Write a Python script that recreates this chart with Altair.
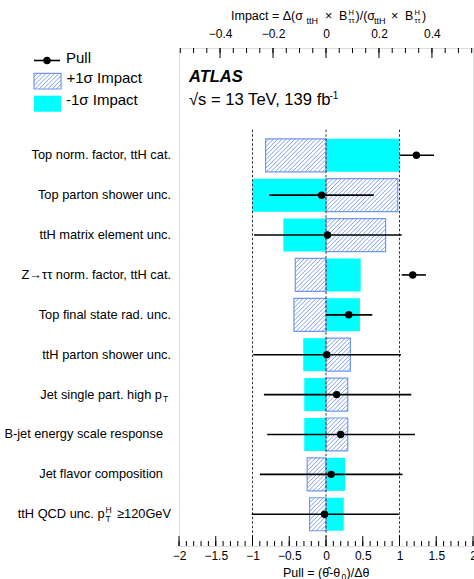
import altair as alt
import pandas as pd
import numpy as np

# ---------------- data ----------------
labels = [
    "Top norm. factor, ttH cat.",
    "Top parton shower unc.",
    "ttH matrix element unc.",
    "Z\u2192\u03c4\u03c4 norm. factor, ttH cat.",
    "Top final state rad. unc.",
    "ttH parton shower unc.",
    "Jet single part. high p",
    "B-jet energy scale response",
    "Jet flavor composition",
    "ttH QCD unc. p",
]
pull = [1.23, -0.06, 0.02, 1.18, 0.31, 0.01, 0.145, 0.20, 0.07, -0.02]
pull_lo = [1.00, -0.77, -0.98, 1.03, 0.00, -0.99, -0.845, -0.80, -0.90, -1.01]
pull_hi = [1.47, 0.65, 1.03, 1.36, 0.63, 1.02, 1.16, 1.21, 1.04, 0.99]
impact_plus = [-0.228, 0.271, 0.225, -0.116, -0.121, 0.092, 0.082, 0.082, -0.071, -0.062]
impact_minus = [0.277, -0.278, -0.161, 0.131, 0.128, -0.086, -0.082, -0.082, 0.072, 0.067]

pull_ticks = [-2, -1.5, -1, -0.5, 0, 0.5, 1, 1.5, 2]
pull_minor_ticks = [round(v, 1) for v in np.arange(-2, 2.001, 0.1)]
impact_ticks = [-0.4, -0.2, 0, 0.2, 0.4]
impact_minor_ticks = [round(v, 2) for v in np.arange(-0.55, 0.5501, 0.05)]

# ---------------- layout ----------------
W, H = 294, 498
PULL_DOM = [-2, 2]
IMP_DOM = [-0.555, 0.555]
ROW_DOM = [-2.69, 9.796]
BAR_HALF = 0.4135
FONT = "Liberation Sans"
CYAN = "#00ffff"
HATCH = "#7097ef"
HSTEP = 4.3
MAJ, MIN = 10, 5
label_end = [171, 171, 171, 171, 171, 171, 162, 163, 163, 104.5]  # absolute px

kx = W / (IMP_DOM[1] - IMP_DOM[0])
ky = H / (ROW_DOM[1] - ROW_DOM[0])


def hatch_segments(X0, X1, Y0, Y1, step):
    segs = []
    c = np.ceil((X0 + Y0) / step) * step
    while c < X1 + Y1:
        a = max(X0, c - Y1)
        b = min(X1, c - Y0)
        if b > a:
            segs.append((a, c - a, b, c - b))
        c += step
    return segs


rows = pd.DataFrame({
    "label": labels,
    "pull": pull, "lo": pull_lo, "hi": pull_hi,
    "plus": impact_plus, "minus": impact_minus,
})
rows["row"] = np.arange(len(rows))
rows["zero"] = 0.0
rows["ylo"] = rows["row"] - BAR_HALF
rows["yhi"] = rows["row"] + BAR_HALF
rows["lx"] = [e - 179 for e in label_end]

hrows = []
for _, r in rows.iterrows():
    x0, x1 = min(0, r.plus), max(0, r.plus)
    for a, ya, b, yb in hatch_segments(x0 * kx, x1 * kx, r.ylo * ky, r.yhi * ky, HSTEP):
        hrows.append({"hx": a / kx, "hy": ya / ky, "hx2": b / kx, "hy2": yb / ky})
hatch_df = pd.DataFrame(hrows)

leg_h = pd.DataFrame([
    {"px": a, "py": ya, "px2": b, "py2": yb}
    for a, ya, b, yb in hatch_segments(-145, -118, 25.3, 41, HSTEP)
])


def imp_scale():
    return alt.Scale(domain=IMP_DOM, nice=False, zero=False)


def pull_scale():
    return alt.Scale(domain=PULL_DOM, nice=False, zero=False)


def xs_imp(field, axis=None):
    return alt.X(field, type="quantitative", scale=imp_scale(), axis=axis)


def xs_pull(field, axis=None):
    return alt.X(field, type="quantitative", scale=pull_scale(), axis=axis)


def ys(field):
    return alt.Y(field, type="quantitative",
                 scale=alt.Scale(domain=ROW_DOM, reverse=True, nice=False, zero=False), axis=None)


def label_axis(orient, values, pad):
    return alt.Axis(orient=orient, values=values, format=".1~f", ticks=False, domain=False,
                    grid=False, labelPadding=pad, labelFontSize=12, labelFont=FONT,
                    labelColor="black", title=None, labelFlush=False, labelOverlap=False)


def tick_layer(values, scale_fn, top, length):
    df = pd.DataFrame({"v": values})
    y0, y1 = (0, length) if top else (H, H - length)
    return alt.Chart(df).mark_rule(color="black", strokeWidth=1).encode(
        x=alt.X("v:Q", scale=scale_fn(), axis=None), y=alt.value(y0), y2=alt.value(y1))


# ---------------- impact bars ----------------
base = alt.Chart(rows)
cyan_bars = base.mark_rect(color=CYAN).encode(
    x=xs_imp("minus"), x2="zero", y=ys("ylo"), y2="yhi")
hatch_lines = alt.Chart(hatch_df).mark_rule(color=HATCH, strokeWidth=0.9).encode(
    x=xs_imp("hx"), x2="hx2", y=ys("hy"), y2="hy2")
hatch_border = base.mark_rect(filled=False, color=HATCH, strokeWidth=1.2).encode(
    x=xs_imp("plus"), x2="zero", y=ys("ylo"), y2="yhi")
impact_group = alt.layer(cyan_bars, hatch_lines, hatch_border)

imp_axis = alt.Chart(pd.DataFrame({"v": impact_ticks})).mark_point(opacity=0).encode(
    x=xs_imp("v", label_axis("top", impact_ticks, 7.5)), y=alt.value(0))

# ---------------- pulls ----------------
guide_df = pd.DataFrame({"v": [-1, 0, 1], "y0": [-0.64] * 3, "y1": [ROW_DOM[1]] * 3})
guides = alt.Chart(guide_df).mark_rule(color="#333333", strokeWidth=1, strokeDash=[2.5, 2]).encode(
    x=xs_pull("v"), y=ys("y0"), y2="y1")
err = base.mark_rule(color="black", strokeWidth=1.6).encode(
    x=xs_pull("lo"), x2="hi", y=ys("row"))
pts = base.mark_circle(size=55, color="black", opacity=1).encode(
    x=xs_pull("pull"), y=ys("row"))
pull_group = alt.layer(guides, err, pts)

pull_axis = alt.Chart(pd.DataFrame({"v": pull_ticks})).mark_point(opacity=0).encode(
    x=xs_pull("v", label_axis("bottom", pull_ticks, 4)), y=alt.value(0))

ticks = [
    tick_layer(impact_minor_ticks, imp_scale, True, MIN),
    tick_layer(impact_ticks, imp_scale, True, MAJ),
    tick_layer(pull_minor_ticks, pull_scale, False, MIN),
    tick_layer(pull_ticks, pull_scale, False, MAJ),
]

# ---------------- row labels ----------------
row_labels = base.mark_text(align="right", baseline="middle", fontSize=12.8, font=FONT,
                            color="black").encode(
    x=alt.X("lx:Q", scale=None, axis=None), y=ys("row"), text="label:N")


def piece(row, s, x_abs, dy, size=8.5, align="left"):
    return base.transform_filter(f"datum.row == {row}").mark_text(
        text=s, align=align, baseline="middle", fontSize=size, font=FONT, color="black", dy=dy
    ).encode(x=alt.value(x_abs - 179), y=ys("row"))


label_pieces = [
    piece(6, "T", 163, 4.5),
    piece(9, "H", 105.5, -4.5),
    piece(9, "T", 105.5, 4.5),
    piece(9, "\u2265120GeV", 171, 0, size=12.8, align="right"),
]


# ---------------- free text ----------------
def txt(s, x_abs, y_abs, size, align="left", **kw):
    return alt.Chart(alt.Data(values=[{}])).mark_text(
        text=s, align=align, baseline="alphabetic", fontSize=size, font=FONT, color="black", **kw
    ).encode(x=alt.value(x_abs - 179), y=alt.value(y_abs - 48))


top_title = [
    txt("Impact = \u0394(\u03c3", 231, 19.5, 12.5),
    txt("ttH", 306.5, 23.5, 9),
    txt("\u00d7", 325, 19.5, 12.5),
    txt("B", 339, 19.5, 12.5),
    txt("H", 348.5, 14.5, 7.5),
    txt("\u03c4\u03c4", 348.5, 22.5, 7.5),
    txt(")/(\u03c3", 355.5, 19.5, 12.5),
    txt("ttH", 374, 23.5, 9),
    txt("\u00d7", 391, 19.5, 12.5),
    txt("B", 405, 19.5, 12.5),
    txt("H", 414.5, 14.5, 7.5),
    txt("\u03c4\u03c4", 414.5, 22.5, 7.5),
    txt(")", 422, 19.5, 12.5),
]
bottom_title = [
    txt("Pull = (\u03b8\u0302-\u03b8", 283, 577, 12.5),
    txt("0", 341.5, 579.5, 8.5),
    txt(")/\u0394\u03b8", 346.5, 577, 12.5),
]
atlas = [
    txt("ATLAS", 189, 81.7, 16.5, fontWeight="bold", fontStyle="italic"),
    txt("\u221as = 13 TeV, 139 fb", 189, 105, 16.6),
    txt("-1", 329.5, 98.5, 10),
]

# ---------------- legend ----------------
one = alt.Data(values=[{}])
legend = [
    alt.Chart(one).mark_rule(color="black", strokeWidth=1.6).encode(
        x=alt.value(-145), x2=alt.value(-119), y=alt.value(12.5)),
    alt.Chart(one).mark_circle(size=55, color="black", opacity=1).encode(
        x=alt.value(-132), y=alt.value(12.5)),
    txt("Pull", 66, 62.7, 15),
    alt.Chart(leg_h).mark_rule(color=HATCH, strokeWidth=0.9).encode(
        x=alt.X("px:Q", scale=None, axis=None), x2="px2",
        y=alt.Y("py:Q", scale=None, axis=None), y2="py2"),
    alt.Chart(one).mark_rect(filled=False, color=HATCH, strokeWidth=1.2).encode(
        x=alt.value(-145), x2=alt.value(-118), y=alt.value(25.3), y2=alt.value(41)),
    txt("+1\u03c3 Impact", 66.5, 83.3, 15),
    alt.Chart(one).mark_rect(color=CYAN).encode(
        x=alt.value(-145), x2=alt.value(-118), y=alt.value(47.7), y2=alt.value(63.7)),
    txt("-1\u03c3 Impact", 66, 105, 15),
]

chart = alt.layer(
    impact_group, imp_axis, pull_group, pull_axis, *ticks, row_labels,
    *label_pieces, *top_title, *bottom_title, *atlas, *legend
).resolve_scale(x="independent", y="independent").properties(
    width=W, height=H,
    autosize=alt.AutoSizeParams(type="none"),
    padding={"left": 179, "top": 48, "right": 1, "bottom": 33},
).configure_view(stroke="black", strokeWidth=1).configure(background="white")

chart.save("out.html", embed_options={"renderer": "svg", "actions": False})
